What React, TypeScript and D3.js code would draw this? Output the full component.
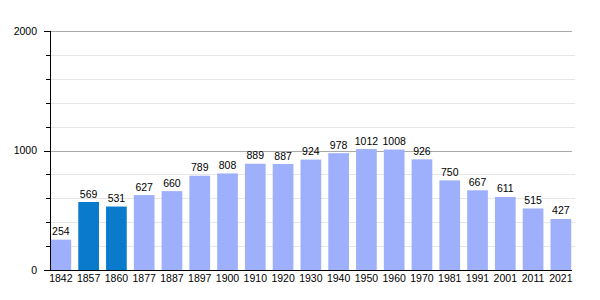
import React from "react";
import * as d3 from "d3";

const years = ["1842","1857","1860","1877","1887","1897","1900","1910","1920","1930","1940","1950","1960","1970","1981","1991","2001","2011","2021"];
const population = [254,569,531,627,660,789,808,889,887,924,978,1012,1008,926,750,667,611,515,427];
const highlighted = ["1857","1860"];
const majorTicks = [0,1000,2000];
const minorTicks = [200,400,600,800,1200,1400,1600,1800];

export default function App() {
  const W = 600, H = 300;
  const x = d3.scaleBand<string>().domain(years).range([50.5, 571.2]).paddingInner(0.255).paddingOuter(0);
  const y = d3.scaleLinear().domain([0, 2000]).range([270, 31]);
  const font = "Liberation Sans, Arial, sans-serif";
  return (
    <svg width={W} height={H} style={{ position: "absolute", left: 0, top: 0, background: "#fff" }} fontFamily={font}>
      {minorTicks.map(t => (
        <g key={"mi" + t}>
          <line x1={50} x2={575} y1={Math.round(y(t)) + 0.5} y2={Math.round(y(t)) + 0.5} stroke="#e6e6e6" />
          <line x1={46} x2={50} y1={Math.round(y(t)) + 0.5} y2={Math.round(y(t)) + 0.5} stroke="#000" />
        </g>
      ))}
      {majorTicks.filter(t => t > 0).map(t => (
        <line key={"ma" + t} x1={50} x2={572} y1={Math.round(y(t)) + 0.5} y2={Math.round(y(t)) + 0.5} stroke="#aaa" />
      ))}
      {years.map((yr, i) => (
        <g key={yr}>
          <rect x={x(yr)} y={y(population[i])} width={x.bandwidth()} height={y(0) - y(population[i])}
            fill={highlighted.includes(yr) ? "#0a7acc" : "#9eb0fb"} />
          <text x={(x(yr) as number) + x.bandwidth() / 2} y={y(population[i]) - 4.5} textAnchor="middle" fontSize={10.5} fill="#000">{population[i]}</text>
          <text x={(x(yr) as number) + x.bandwidth() / 2} y={282} textAnchor="middle" fontSize={10.5} fill="#000">{yr}</text>
        </g>
      ))}
      {majorTicks.map(t => (
        <g key={"l" + t}>
          <line x1={44} x2={50} y1={Math.round(y(t)) + 0.5} y2={Math.round(y(t)) + 0.5} stroke="#000" />
          <text x={37} y={y(t) + 3.8} textAnchor="end" fontSize={10.5} fill="#000">{t}</text>
        </g>
      ))}
      <line x1={50.5} x2={50.5} y1={31} y2={270} stroke="#000" />
      <line x1={44} x2={572} y1={270.5} y2={270.5} stroke="#000" />
    </svg>
  );
}
